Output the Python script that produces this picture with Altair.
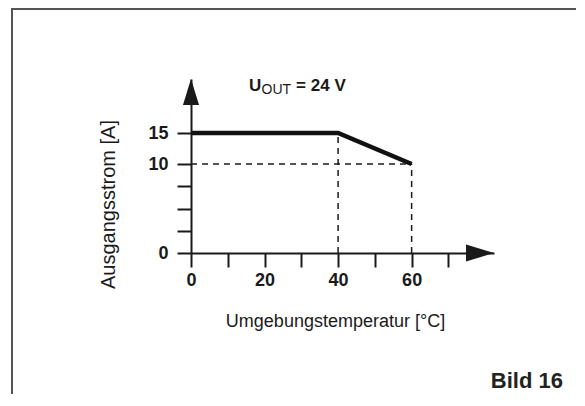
import altair as alt
import pandas as pd

# ---- data ----
temps = [0, 40, 60]            # Umgebungstemperatur [°C]
current = [15, 15, 10]         # Ausgangsstrom [A]

x_ticks = [0, 10, 20, 30, 40, 50, 60, 70]
y_ticks = [0, 2.5, 5, 7.5, 10, 15]
x_max = 82.4
y_domain = [0, 10, 15, 20]     # schematic (piecewise) current axis

guide_x = [40, 60, 0]
guide_x2 = [40, 60, 60]
guide_y = [0, 0, 10]
guide_y2 = [15, 10, 10]

arrow_x = [0, 78.6]
arrow_y = [18.8, 0]
arrow_dir = ["up", "right"]

title_x = [15.8]
title_y = [18.85]
title_main = ["U"]
title_sub = ["OUT"]
title_rest = ["= 24 V"]

caption = ["Bild 16"]

FONT = "Liberation Sans"
INK = "#1a1a1a"

xs = alt.Scale(domain=[0, x_max], nice=False, zero=False)
ys = alt.Scale(domain=y_domain, range=[174, 85, 54, 0], nice=False, zero=False)

X_AX = alt.Axis(
    values=x_ticks,
    labelExpr="datum.value % 20 == 0 ? datum.label : ''",
    tickSize=14, tickWidth=2, tickColor=INK,
    domainWidth=2, domainColor=INK,
    labelFont=FONT, labelFontSize=18, labelFontWeight="bold", labelColor=INK,
    labelPadding=4, labelFlush=False, labelOverlap=False,
    title="Umgebungstemperatur [°C]",
    titleFont=FONT, titleFontSize=18, titleFontWeight="normal", titleColor=INK,
    titleBaseline="alphabetic", titleX=144, titleY=73,
    grid=False,
)
Y_AX = alt.Axis(
    values=y_ticks,
    labelExpr="datum.value == 0 || datum.value >= 10 ? datum.label : ''",
    tickSize=14, tickWidth=2, tickColor=INK,
    domainWidth=2, domainColor=INK,
    labelFont=FONT, labelFontSize=18, labelFontWeight="bold", labelColor=INK,
    labelPadding=9, labelFlush=False, labelOverlap=False,
    title="Ausgangsstrom [A]",
    titleFont=FONT, titleFontSize=20, titleFontWeight="normal", titleColor=INK,
    titleAngle=270, titleBaseline="alphabetic", titleAlign="center",
    titleX=-77, titleY=125,
    grid=False,
)

frame = alt.Chart(pd.DataFrame({"k": [0]})).mark_rect(
    fill="transparent", stroke="#555555", strokeWidth=2
).encode(
    x=alt.value(-179), x2=alt.value(700), y=alt.value(-70), y2=alt.value(600)
)

guides = alt.Chart(pd.DataFrame({
    "t": guide_x, "t2": guide_x2, "a": guide_y, "a2": guide_y2
})).mark_rule(color=INK, strokeWidth=1.5, strokeDash=[6, 5]).encode(
    x=alt.X("t:Q", scale=xs, axis=X_AX),
    x2="t2:Q",
    y=alt.Y("a:Q", scale=ys, axis=Y_AX),
    y2="a2:Q",
)

line = alt.Chart(pd.DataFrame({"t": temps, "a": current})).mark_line(
    color="#111111", strokeWidth=4.5, strokeJoin="miter"
).encode(
    x=alt.X("t:Q", scale=xs, axis=X_AX),
    y=alt.Y("a:Q", scale=ys, axis=Y_AX),
)

arrows_df = pd.DataFrame({"t": arrow_x, "a": arrow_y, "d": arrow_dir})
up = alt.Chart(arrows_df).transform_filter("datum.d == 'up'").mark_point(
    shape="M0,-1L0.62,1L-0.62,1Z", filled=True, size=676, color=INK,
    opacity=1, strokeWidth=0
).encode(
    x=alt.X("t:Q", scale=xs, axis=X_AX),
    y=alt.Y("a:Q", scale=ys, axis=Y_AX),
)
right = alt.Chart(arrows_df).transform_filter("datum.d == 'right'").mark_point(
    shape="M1,0L-1,-0.6L-1,0.6Z", filled=True, size=784, color=INK,
    opacity=1, strokeWidth=0
).encode(
    x=alt.X("t:Q", scale=xs, axis=X_AX),
    y=alt.Y("a:Q", scale=ys, axis=Y_AX),
)

tdf = pd.DataFrame({"t": title_x, "a": title_y, "m": title_main,
                    "s": title_sub, "r": title_rest})
t_main = alt.Chart(tdf).mark_text(
    align="left", baseline="alphabetic", font=FONT, fontSize=17,
    fontWeight="bold", color=INK
).encode(
    x=alt.X("t:Q", scale=xs, axis=X_AX),
    y=alt.Y("a:Q", scale=ys, axis=Y_AX),
    text="m:N",
)
t_sub = alt.Chart(tdf).mark_text(
    align="left", baseline="alphabetic", font=FONT, fontSize=14,
    fontWeight="normal", color=INK, dx=12.5, dy=3
).encode(
    x=alt.X("t:Q", scale=xs, axis=X_AX),
    y=alt.Y("a:Q", scale=ys, axis=Y_AX),
    text="s:N",
)
t_rest = alt.Chart(tdf).mark_text(
    align="left", baseline="alphabetic", font=FONT, fontSize=17,
    fontWeight="bold", color=INK, dx=47
).encode(
    x=alt.X("t:Q", scale=xs, axis=X_AX),
    y=alt.Y("a:Q", scale=ys, axis=Y_AX),
    text="r:N",
)

cap = alt.Chart(pd.DataFrame({"c": caption})).mark_text(
    align="right", baseline="alphabetic", font=FONT, fontSize=22,
    fontWeight="bold", color="#222222"
).encode(
    x=alt.value(372), y=alt.value(309), text="c:N"
)

chart = alt.layer(
    frame, guides, line, up, right, t_main, t_sub, t_rest, cap
).properties(
    width=303, height=174,
    autosize=alt.AutoSizeParams(type="none"),
    padding={"left": 183, "top": 71, "right": 82, "bottom": 141},
    background="white",
).configure_view(stroke="transparent")

chart.save("out.html", embed_options={"renderer": "svg", "actions": False})
